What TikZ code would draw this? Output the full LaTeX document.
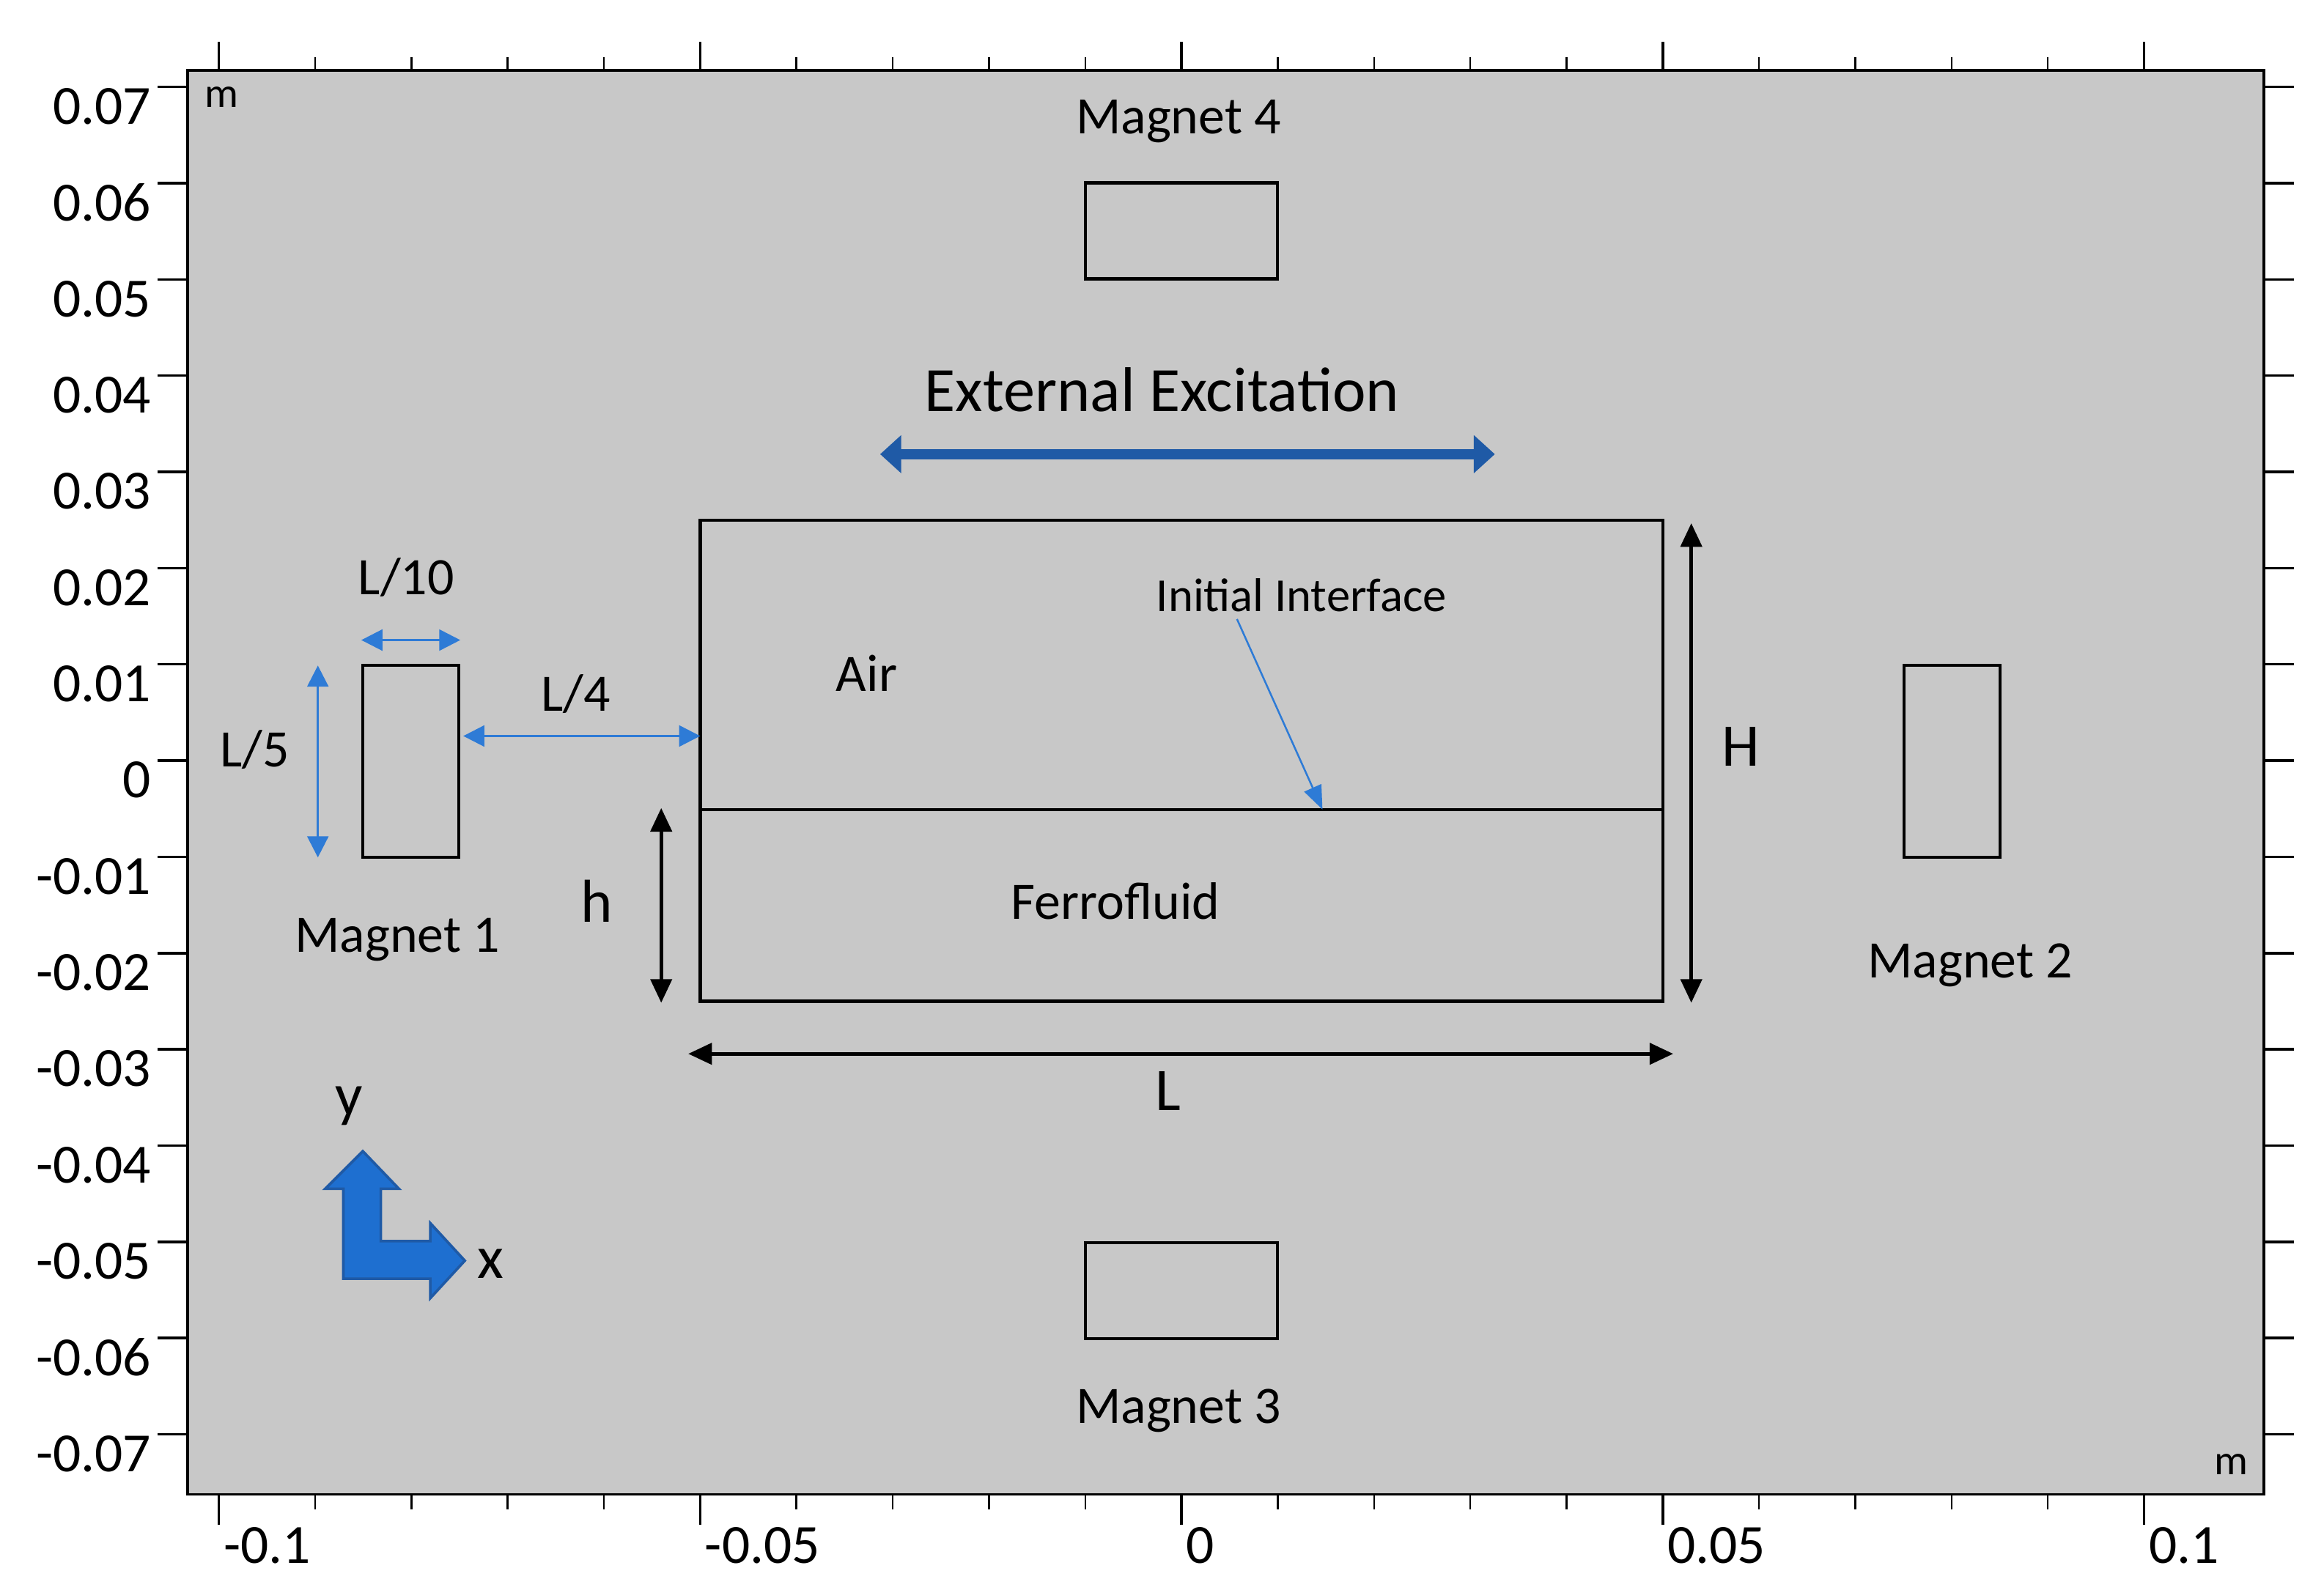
\documentclass[tikz,border=0pt]{standalone}
\usepackage{fontspec}
\setmainfont{Carlito}
\usetikzlibrary{arrows.meta}
\definecolor{bg}{HTML}{C8C8C8}
\definecolor{lblue}{HTML}{2E7BD6}
\definecolor{dblue}{HTML}{1F5AA6}
\definecolor{iblue}{HTML}{1E6FD0}
\tikzset{
 mag/.style={draw=black,line width=1.2pt},
 lab/.style={font=\fontsize{20}{24}\selectfont},
 tlab/.style={font=\fontsize{21}{25}\selectfont},
 big/.style={font=\fontsize{23}{27}\selectfont},
 darr/.style={{Triangle[length=9pt,width=8pt]}-{Triangle[length=9pt,width=8pt]},line width=1.5pt},
 barr/.style={lblue,{Triangle[length=8pt,width=8pt]}-{Triangle[length=8pt,width=8pt]},line width=0.8pt},
}
\begin{document}
\begin{tikzpicture}[x=0.02cm,y=-0.02cm]
\useasboundingbox (0,0) rectangle (1550,1053);
\draw[fill=bg,line width=1pt] (125,47) rectangle (1510,997);
% ticks
\foreach \i in {0,...,20}{
  \pgfmathsetmacro\xx{146+64.2*\i}
  \pgfmathtruncatemacro\m{mod(\i,5)}
  \ifnum\m=0
   \draw[line width=1pt] (\xx,28)--(\xx,47) (\xx,997)--(\xx,1017);
  \else
   \draw[line width=0.7pt] (\xx,38)--(\xx,47) (\xx,997)--(\xx,1007);
  \fi}
\foreach \i in {0,...,14}{
  \pgfmathsetmacro\yy{58+64.2*\i}
  \draw[line width=1pt] (105,\yy)--(125,\yy) (1510,\yy)--(1530,\yy);}
\foreach \t [count=\i from 0] in {0.07,0.06,0.05,0.04,0.03,0.02,0.01,0,-0.01,-0.02,-0.03,-0.04,-0.05,-0.06,-0.07}{
  \node[tlab,anchor=east] (yl\i) at (107,{71+64.2*\i}) {\t};}
\node[tlab,anchor=west] (xl1) at (143,1031) {-0.1};
\node[tlab,anchor=west] (xl2) at (464,1031) {-0.05};
\node[tlab,anchor=west] (xl3) at (785,1031) {0};
\node[tlab,anchor=west] (xl4) at (1106,1031) {0.05};
\node[tlab,anchor=west] (xl5) at (1427,1031) {0.1};
\node[font=\fontsize{16}{18}\selectfont] (m1) at (148,65) {m};
\node[font=\fontsize{16}{18}\selectfont] (m2) at (1488,977) {m};
% magnets
\draw[mag] (724,122) rectangle (852,186);
\draw[mag] (724,829) rectangle (852,893);
\draw[mag] (242,444) rectangle (306,572);
\draw[mag] (1270,444) rectangle (1334,572);
\node[lab] (t4) at (786,81) {Magnet 4};
\node[lab] (t3) at (786,941) {Magnet 3};
\node[lab] (t1) at (265,627) {Magnet 1};
\node[lab] (t2) at (1314,644) {Magnet 2};
% container
\draw[mag] (467,347) rectangle (1109,668);
\draw[line width=1.2pt] (467,540)--(1109,540);
\node[lab] (air) at (578,449) {Air};
\node[lab] (ff) at (744,601) {Ferrofluid};
\node[font=\fontsize{18}{21}\selectfont] (ii) at (868,397) {Initial Interface};
\coordinate (iiE) at (882,540);
\draw[lblue,line width=0.7pt,-{Triangle[length=9pt,width=7pt]}] (825,413)--(iiE);
\node[font=\fontsize{24}{28}\selectfont] (ee) at (775,260) {External Excitation};
\coordinate (eeA) at (587,303); \coordinate (eeB) at (997,303);
\draw[dblue,line width=4pt,{Triangle[length=8pt,width=14pt]}-{Triangle[length=8pt,width=14pt]}] (eeA)--(eeB);
% dimensions
\coordinate (Ha) at (1128,349); \coordinate (Hb) at (1128,669);
\draw[darr] (Ha)--(Hb);
\node[big] (H) at (1161,498) {H};
\coordinate (ha) at (441,539); \coordinate (hb) at (441,669);
\draw[darr] (ha)--(hb);
\node[big] (h) at (398,601) {h};
\coordinate (La) at (459,703); \coordinate (Lb) at (1116,703);
\draw[darr] (La)--(Lb);
\node[big] (L) at (779,728) {L};
\coordinate (a10) at (241,427); \coordinate (b10) at (307,427);
\draw[barr] (a10)--(b10);
\node[lab] (l10) at (271,385) {L/10};
\coordinate (a5) at (212,444); \coordinate (b5) at (212,572);
\draw[barr] (a5)--(b5);
\node[lab] (l5) at (170,500) {L/5};
\coordinate (a4) at (309,491); \coordinate (b4) at (467,491);
\draw[barr] (a4)--(b4);
\node[lab] (l4) at (384,463) {L/4};
% xy icon
\draw[fill=iblue,draw=dblue,line width=1pt] (242,768)--(266,793)--(254,793)--(254,828)--(287,828)--(287,816)--(310,841)--(287,866)--(287,853)--(229,853)--(229,793)--(217,793)--cycle;
\node[big] (yy) at (233,738) {y};
\node[big] (xx) at (327,843) {x};
\end{tikzpicture}
\end{document}
